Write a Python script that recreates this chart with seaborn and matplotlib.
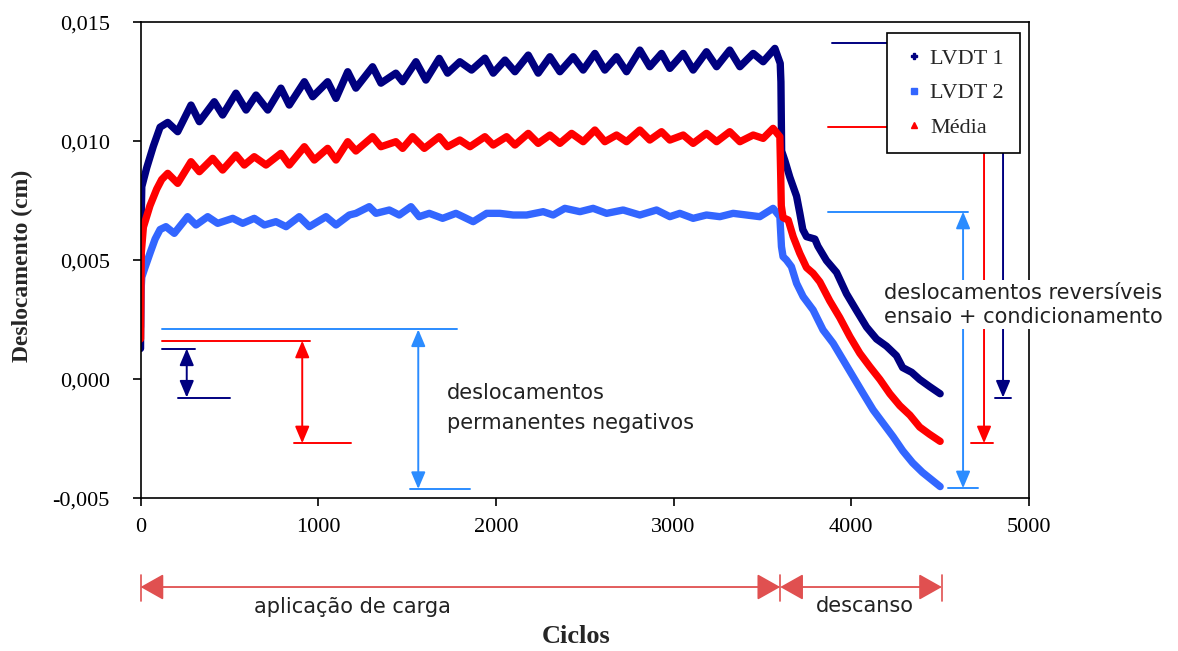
import matplotlib
matplotlib.use("Agg")
import matplotlib.pyplot as plt
import numpy as np
import pandas as pd
import seaborn as sns
from matplotlib.lines import Line2D
from matplotlib.patches import ArrowStyle
from matplotlib.ticker import FuncFormatter, MultipleLocator
from matplotlib import font_manager

# ---------------- data ----------------
cycles_lvdt1 = [0, 3, 7, 35, 72, 110, 153, 209, 284, 331, 415, 462, 537, 594, 650, 716, 790, 837,
                922, 969, 1053, 1100, 1166, 1212, 1306, 1353, 1437, 1475, 1550, 1606, 1681, 1728,
                1797, 1863, 1938, 1985, 2051, 2107, 2182, 2238, 2304, 2360, 2435, 2491, 2557, 2613,
                2679, 2735, 2810, 2866, 2932, 2979, 3054, 3110, 3185, 3242, 3316, 3373, 3448, 3504,
                3570, 3600, 3604, 3608, 3626, 3654, 3692, 3710, 3727, 3748, 3795, 3812, 3860, 3917,
                3973, 4029, 4086, 4142, 4198, 4254, 4289, 4340, 4385, 4441, 4500]
lvdt1 = [0.0013, 0.0064, 0.0081, 0.0089, 0.0098, 0.0106, 0.0108, 0.01041, 0.01153, 0.01083, 0.01167,
         0.01111, 0.01203, 0.01132, 0.01195, 0.01132, 0.01224, 0.01153, 0.01251, 0.01188, 0.01251,
         0.01181, 0.01293, 0.01224, 0.01314, 0.01245, 0.01287, 0.01251, 0.01335, 0.01258, 0.01349,
         0.01287, 0.01335, 0.0130, 0.0135, 0.01287, 0.01342, 0.01293, 0.01363, 0.01287, 0.01356,
         0.01293, 0.01356, 0.0130, 0.0137, 0.0130, 0.01356, 0.01293, 0.01384, 0.01314, 0.0137,
         0.01307, 0.0137, 0.0130, 0.01377, 0.01314, 0.01384, 0.01314, 0.0137, 0.01335, 0.01391,
         0.01328, 0.0125, 0.0096, 0.0092, 0.0085, 0.0077, 0.0070, 0.0063, 0.0060, 0.0059, 0.0056,
         0.0050, 0.0045, 0.0036, 0.0029, 0.0022, 0.0017, 0.0014, 0.0010, 0.0005, 0.0003, 0.0000,
         -0.0003, -0.0006]

cycles_lvdt2 = [0, 2, 7, 25, 53, 82, 110, 143, 190, 265, 312, 378, 434, 519, 575, 640, 697, 762, 819,
                893, 950, 1044, 1100, 1175, 1212, 1287, 1325, 1400, 1456, 1522, 1568, 1625, 1700,
                1775, 1872, 1948, 2022, 2097, 2173, 2266, 2322, 2388, 2473, 2547, 2623, 2716, 2810,
                2904, 2979, 3035, 3110, 3185, 3260, 3335, 3410, 3485, 3560, 3598, 3607, 3616, 3635,
                3663, 3692, 3729, 3785, 3841, 3898, 3954, 4010, 4066, 4123, 4179, 4235, 4290, 4345,
                4400, 4450, 4500]
lvdt2 = [0.0022, 0.0036, 0.0043, 0.0047, 0.0053, 0.0059, 0.0063, 0.00642, 0.00614, 0.00684, 0.00649,
         0.00684, 0.00656, 0.00677, 0.00656, 0.00677, 0.00649, 0.00663, 0.00642, 0.00684, 0.00642,
         0.00684, 0.00649, 0.00691, 0.00698, 0.00726, 0.00698, 0.00712, 0.00691, 0.00726, 0.00684,
         0.00698, 0.00677, 0.00698, 0.00663, 0.00698, 0.00698, 0.00691, 0.00691, 0.00705, 0.00691,
         0.00719, 0.00705, 0.00719, 0.00698, 0.00712, 0.00691, 0.00712, 0.00684, 0.00698, 0.00677,
         0.00691, 0.00684, 0.00698, 0.00691, 0.00684, 0.00719, 0.00684, 0.00558, 0.00516, 0.00502,
         0.00474, 0.00404, 0.00348, 0.00292, 0.00208, 0.00152, 0.00082, 0.00012, -0.00058, -0.00128,
         -0.00184, -0.0024, -0.0030, -0.0035, -0.0039, -0.0042, -0.0045]

cycles_media = [0, 4, 16, 53, 91, 119, 153, 209, 284, 331, 406, 462, 537, 584, 640, 706, 790, 837,
                922, 978, 1053, 1100, 1166, 1212, 1306, 1353, 1437, 1475, 1531, 1597, 1681, 1728,
                1797, 1854, 1938, 1985, 2060, 2107, 2182, 2238, 2304, 2360, 2426, 2491, 2557, 2613,
                2679, 2735, 2810, 2866, 2932, 2979, 3054, 3110, 3185, 3242, 3316, 3373, 3448, 3504,
                3560, 3598, 3603, 3606, 3616, 3645, 3673, 3710, 3748, 3785, 3823, 3879, 3935, 3992,
                4048, 4104, 4161, 4217, 4273, 4330, 4385, 4440, 4500]
media = [0.0017, 0.0053, 0.0064, 0.0073, 0.0080, 0.0084, 0.00866, 0.00824, 0.00915, 0.00873, 0.00929,
         0.0088, 0.00943, 0.00901, 0.00936, 0.00901, 0.0095, 0.00901, 0.00978, 0.00922, 0.00971,
         0.00922, 0.00999, 0.0096, 0.0102, 0.00978, 0.00999, 0.00971, 0.0102, 0.00971, 0.0102,
         0.00978, 0.01006, 0.00978, 0.0102, 0.00985, 0.0102, 0.00985, 0.01034, 0.00992, 0.01027,
         0.00992, 0.01034, 0.00999, 0.01048, 0.00999, 0.01027, 0.00999, 0.01048, 0.01006, 0.01041,
         0.01006, 0.01027, 0.00992, 0.01034, 0.00999, 0.01041, 0.00999, 0.01027, 0.01013, 0.01055,
         0.0102, 0.0085, 0.0073, 0.0068, 0.0067, 0.0060, 0.0053, 0.0047, 0.00446, 0.0041, 0.0033,
         0.0026, 0.0018, 0.0011, 0.00054, 0.0000, -0.0006, -0.0011, -0.0015, -0.0020, -0.0023, -0.0026]

series_names = ["LVDT 1", "LVDT 2", "Média"]
x_ticks = [0, 1000, 2000, 3000, 4000, 5000]
y_ticks = [-0.005, 0.0, 0.005, 0.010, 0.015]

# annotation values (cycles / displacement)
perm_top = [0.0013, 0.00163, 0.0021]        # LVDT1, Média, LVDT2
perm_bottom = [-0.00076, -0.00268, -0.0046]
rev_top = [0.01413, 0.0106, 0.00705]
rev_bottom = [-0.00076, -0.00268, -0.00457]
phase_edges = [0, 3600, 4510]
phase_labels = ["aplicação de carga", "descanso"]

# ---------------- styling ----------------
sns.set_theme(style="ticks")
names = {f.name for f in font_manager.fontManager.ttflist}
SERIF = "Liberation Serif" if "Liberation Serif" in names else "DejaVu Serif"
plt.rcParams["font.family"] = ["DejaVu Sans"]

NAVY = "#000080"
BLUE = "#3366ff"
RED = "#ff0000"
ABLUE = "#2b8cff"
PHASE = "#e05050"
palette = {"LVDT 1": NAVY, "LVDT 2": BLUE, "Média": RED}

fig = plt.figure(figsize=(11.78, 6.51), dpi=100)
ax = fig.add_axes([0.1193, 0.2343, 0.7542, 0.7312])

df = pd.concat([
    pd.DataFrame({"Ciclos": cycles_lvdt1, "Deslocamento": lvdt1, "Série": "LVDT 1"}),
    pd.DataFrame({"Ciclos": cycles_lvdt2, "Deslocamento": lvdt2, "Série": "LVDT 2"}),
    pd.DataFrame({"Ciclos": cycles_media, "Deslocamento": media, "Série": "Média"}),
], ignore_index=True)

sns.lineplot(data=df, x="Ciclos", y="Deslocamento", hue="Série", palette=palette,
             estimator=None, sort=False, lw=5.3, legend=False, ax=ax)
for ln in ax.lines:
    ln.set_solid_capstyle("round")
    ln.set_solid_joinstyle("round")

ax.set_xlim(0, 5000)
ax.set_ylim(-0.005, 0.015)
ax.set_xticks(x_ticks)
ax.set_yticks(y_ticks)
ax.yaxis.set_major_formatter(FuncFormatter(lambda v, p: f"{v:.3f}".replace(".", ",")))
ax.xaxis.set_major_formatter(FuncFormatter(lambda v, p: f"{int(round(v))}"))
ax.tick_params(axis="both", direction="out", length=6, width=1.2, colors="black",
               labelsize=16)
ax.tick_params(axis="y", pad=16)
ax.tick_params(axis="x", pad=8)
for lab in ax.get_xticklabels() + ax.get_yticklabels():
    lab.set_fontfamily(SERIF)
for s in ax.spines.values():
    s.set_visible(True)
    s.set_color("black")
    s.set_linewidth(1.2)

ax.set_xlabel("Ciclos", fontfamily=SERIF, fontweight="bold", fontsize=19)
ax.set_ylabel("Deslocamento (cm)", fontfamily=SERIF, fontweight="bold", fontsize=17)
ax.xaxis.set_label_coords(0.49, -0.289)
ax.xaxis.label.set_va("center")
ax.yaxis.set_label_coords(-0.1334, 0.488)
ax.yaxis.label.set_va("center")

# ---------------- annotations ----------------
small_head = ArrowStyle("<|-|>", head_length=0.85, head_width=0.36)
def varrow(x, y0, y1, color):
    ax.annotate("", xy=(x, y1), xytext=(x, y0),
                arrowprops=dict(arrowstyle=small_head, color=color, lw=1.4,
                                mutation_scale=12, shrinkA=0, shrinkB=0),
                annotation_clip=False, zorder=4)

def hline(x0, x1, y, color):
    ax.plot([x0, x1], [y, y], color=color, lw=1.4, clip_on=False, zorder=4)

# permanent (left)
colors_ann = [NAVY, RED, ABLUE]
top_x = [(123, 307), (123, 954), (123, 1779)]
bot_x = [(213, 504), (864, 1183), (1516, 1854)]
arr_x = [260, 910, 1563]
for i in range(3):
    hline(*top_x[i], perm_top[i], colors_ann[i])
    hline(*bot_x[i], perm_bottom[i], colors_ann[i])
    varrow(arr_x[i], perm_top[i], perm_bottom[i], colors_ann[i])
ax.text(1724, -0.00057, "deslocamentos", ha="left", va="center", fontsize=15, color="#222222")
ax.text(1724, -0.00183, "permanentes negativos", ha="left", va="center", fontsize=15, color="#222222")

# reversible (right)
rtop_x = [(3894, 4854), (3868, 4747), (3870, 4657)]
rarr_x = [4854, 4747, 4629]
rbot_x = [(4807, 4901), (4676, 4800), (4543, 4712)]
for i in range(3):
    hline(*rtop_x[i], rev_top[i], colors_ann[i])
    hline(*rbot_x[i], rev_bottom[i], colors_ann[i])
    varrow(rarr_x[i], rev_top[i], rev_bottom[i], colors_ann[i])
ax.text(4968, 0.00313, "deslocamentos reversíveis\nensaio + condicionamento", ha="center",
        va="center", multialignment="center", linespacing=1.3, fontsize=15, color="#222222",
        bbox=dict(fc="white", ec="none", pad=1.5), zorder=10, clip_on=False)

# phases (below axis)
big_head = ArrowStyle("<|-|>", head_length=0.8, head_width=0.45)
y_ph = -0.00872
for x in phase_edges:
    ax.plot([x, x], [-0.0082, -0.0093], color=PHASE, lw=1.2, clip_on=False)
for a, b in zip(phase_edges[:-1], phase_edges[1:]):
    ax.annotate("", xy=(b, y_ph), xytext=(a, y_ph),
                arrowprops=dict(arrowstyle=big_head, color=PHASE, lw=1.3,
                                mutation_scale=18, shrinkA=0, shrinkB=0),
                annotation_clip=False)
ax.text(1191, -0.00956, phase_labels[0], ha="center", va="center", fontsize=15, color="#222222", clip_on=False)
ax.text(4076, -0.0095, phase_labels[1], ha="center", va="center", fontsize=15, color="#222222", clip_on=False)

# legend
handles = [Line2D([], [], ls="none", marker="P", ms=5, color=NAVY),
           Line2D([], [], ls="none", marker="s", ms=4, color=BLUE),
           Line2D([], [], ls="none", marker="^", ms=5, color=RED)]
leg = ax.legend(handles, series_names, loc="upper left", bbox_to_anchor=(0.753, 0.9493),
                bbox_transform=fig.transFigure, borderaxespad=0, frameon=True, fancybox=False,
                edgecolor="black", framealpha=1, handlelength=1.0, handletextpad=0.25,
                labelspacing=0.62, borderpad=0.7, prop={"family": SERIF, "size": 16})
leg.get_frame().set_linewidth(1.2)
leg.set_zorder(20)

fig.savefig("out.png", dpi=100)
